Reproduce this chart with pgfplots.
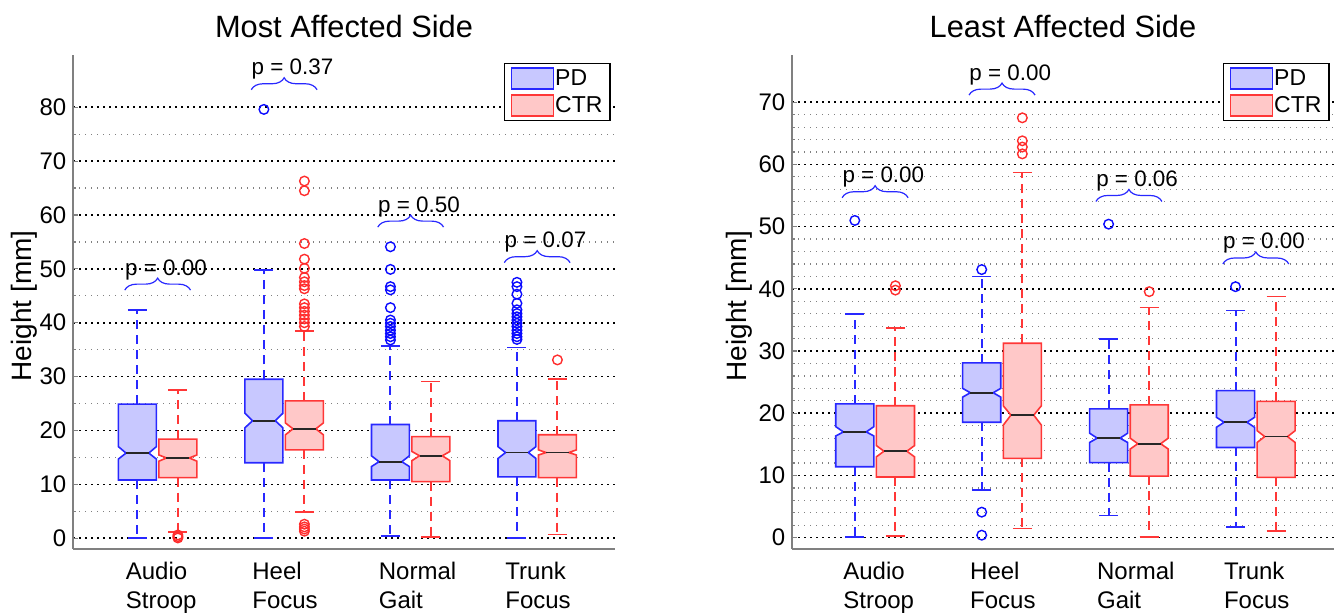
\documentclass[border=0pt]{standalone}
\usepackage{pgfplots}
\pgfplotsset{compat=1.18}
\usepackage{fontspec}
\setmainfont{Liberation Sans}
\usetikzlibrary{decorations.pathreplacing}

\definecolor{pdedge}{RGB}{40,40,255}
\definecolor{pdfill}{RGB}{200,200,255}
\definecolor{pdmark}{RGB}{10,10,255}
\definecolor{ctredge}{RGB}{255,55,55}
\definecolor{ctrfill}{RGB}{255,200,200}
\definecolor{ctrmark}{RGB}{255,45,45}

\pgfplotsset{
  pdbox/.style={draw=pdedge, fill=pdfill, line width=0.8pt, mark=none, line join=miter},
  ctrbox/.style={draw=ctredge, fill=ctrfill, line width=0.8pt, mark=none, line join=miter},
  pdwhisker/.style={color=pdedge, line width=1pt, line cap=butt, dash pattern=on 4.5pt off 3pt, mark=none},
  ctrwhisker/.style={color=ctredge, line width=1pt, line cap=butt, dash pattern=on 4.5pt off 3pt, mark=none},
  pdcap/.style={color=pdedge, line width=0.8pt, mark=none},
  ctrcap/.style={color=ctredge, line width=0.8pt, mark=none},
  median/.style={color=black!85, line width=0.9pt, mark=none},
  pdout/.style={only marks, mark=o, mark size=2.4pt, mark options={draw=pdmark, line width=0.7pt, solid}},
  ctrout/.style={only marks, mark=o, mark size=2.4pt, mark options={draw=ctrmark, line width=0.7pt, solid}},
  panel/.style={
    scale only axis, width=271pt, height=247pt,
    anchor=south west,
    axis x line*=bottom, axis y line*=left,
    axis line style={black!50, line width=1pt},
    xtick={1,2,3,4},
    xticklabels={{Audio\\Stroop},{Heel\\Focus},{Normal\\Gait},{Trunk\\Focus}},
    xtick style={draw=none},
    ytick style={draw=black!50, line width=0.6pt},
    tick align=inside,
    major tick length=2.5pt, minor tick length=1.5pt,
    ymajorgrids, yminorgrids,
    major grid style={draw=black, line width=0.8pt, dash pattern=on 0.8pt off 2.2pt},
    minor grid style={draw=black!50, line width=0.6pt, dash pattern=on 0.6pt off 2.4pt},
    tick label style={font=\fontsize{12}{14.5}\selectfont},
    /pgf/number format/assume math mode=true,
    xticklabel style={anchor=north west, align=left, inner sep=0pt, xshift=-16.1pt, yshift=-6.5pt},
    yticklabel style={anchor=east, inner sep=0pt, xshift=-3.2pt},
    title style={at={(0.5,1)}, anchor=base, yshift=2.5pt, font=\fontsize{15.4}{18}\selectfont},
    ylabel={Height [mm]},
    ylabel style={anchor=south, inner sep=0pt, font=\fontsize{14}{17}\selectfont},
    legend style={at={(1,1)}, anchor=north east, xshift=-2.15pt, yshift=-3.85pt,
      draw=black, line width=0.8pt, fill=white,
      font=\fontsize{11.5}{13}\selectfont,
      inner xsep=3.2pt, inner ysep=2pt, row sep=2.2pt,
      nodes={inner sep=0.5pt},
      /tikz/every even column/.append style={column sep=1pt}},
    legend cell align=left,
    clip=false,
  },
}
\tikzset{
  pbrace/.style={draw=pdedge, line width=0.6pt, decorate, decoration={brace, amplitude=6pt}},
  ptext/.style={anchor=base west, inner sep=0pt, yshift=7.5pt, font=\fontsize{11.2}{13}\selectfont},
}

% notched box: style, x, lower whisker, q1, notch low, median, notch high, q3, upper whisker
\newcommand{\nbox}[9]{%
  \pgfmathsetmacro\bxl{#2-0.15}\pgfmathsetmacro\bxr{#2+0.15}%
  \pgfmathsetmacro\bnl{#2-0.09}\pgfmathsetmacro\bnr{#2+0.09}%
  \pgfmathsetmacro\cxl{#2-0.075}\pgfmathsetmacro\cxr{#2+0.075}%
  \edef\nboxcmd{%
    \noexpand\addplot[#1whisker, forget plot] coordinates {(#2,#8) (#2,#9)};
    \noexpand\addplot[#1whisker, forget plot] coordinates {(#2,#4) (#2,#3)};
    \noexpand\addplot[#1cap, forget plot] coordinates {(\cxl,#9) (\cxr,#9)};
    \noexpand\addplot[#1cap, forget plot] coordinates {(\cxl,#3) (\cxr,#3)};
    \noexpand\addplot[#1box, forget plot] coordinates {(\bxl,#4) (\bxr,#4) (\bxr,#5) (\bnr,#6) (\bxr,#7) (\bxr,#8) (\bxl,#8) (\bxl,#7) (\bnl,#6) (\bxl,#5)} -- cycle;
    \noexpand\addplot[median, forget plot] coordinates {(\bnl,#6) (\bnr,#6)};
  }\nboxcmd
}
% brace with p-value: x left, x right, height, text
\newcommand{\pbrace}[4]{%
  \draw[pbrace] (axis cs:#1,#3) -- (axis cs:#2,#3);
  \node[ptext] at (axis cs:#1,#3) {#4};
}
\newcommand{\legendboxes}{%
  \addlegendimage{legend image code/.code={\draw[line width=0.7pt, draw=pdedge, fill=pdfill] (0pt,-5.25pt) rectangle (21pt,5.25pt);}}
  \addlegendentry{PD}
  \addlegendimage{legend image code/.code={\draw[line width=0.7pt, draw=ctredge, fill=ctrfill] (0pt,-5.25pt) rectangle (21pt,5.25pt);}}
  \addlegendentry{CTR}
}

\begin{document}
\begin{tikzpicture}
\useasboundingbox (0,0) rectangle (670pt,306.5pt);

% ---------------- most affected side ----------------
\begin{axis}[panel, at={(36.5pt,32pt)},
  title={Most Affected Side},
  xmin=0.331, xmax=4.615, ymin=-2, ymax=89.7,
  ytick={0,10,...,80}, minor y tick num=1,
  ylabel style={at={(axis description cs:-0.065,0.492)}}]
\legendboxes
\nbox{pd}{0.84}{0.0}{10.8}{14.7}{15.8}{17.0}{24.9}{42.4}
\nbox{ctr}{1.16}{1.2}{11.25}{14.3}{14.9}{15.45}{18.4}{27.5}
\nbox{pd}{1.84}{0.0}{14.0}{20.5}{21.8}{23.2}{29.5}{49.8}
\nbox{ctr}{2.16}{4.9}{16.4}{19.2}{20.3}{21.4}{25.5}{38.5}
\nbox{pd}{2.84}{0.4}{10.8}{13.3}{14.2}{15.3}{21.1}{35.7}
\nbox{ctr}{3.16}{0.2}{10.5}{14.4}{15.3}{16.1}{18.85}{29.1}
\nbox{pd}{3.84}{0.0}{11.4}{14.8}{15.9}{17.0}{21.8}{35.4}
\nbox{ctr}{4.16}{0.7}{11.25}{15.45}{15.9}{16.4}{19.2}{29.6}
% outliers
\addplot[ctrout, forget plot] coordinates {(1.16,0.05) (1.16,0.3) (1.16,0.6)};
\addplot[pdout, forget plot] coordinates {(1.84,79.6)};
\addplot[ctrout, forget plot] coordinates {
  (2.16,1.3) (2.16,1.7) (2.16,2.1) (2.16,2.6)
  (2.16,39.3) (2.16,40.0) (2.16,40.7) (2.16,41.4) (2.16,42.1) (2.16,42.8) (2.16,43.5)
  (2.16,46.3) (2.16,46.9) (2.16,47.6) (2.16,48.4) (2.16,50.1) (2.16,51.8) (2.16,54.7)
  (2.16,64.5) (2.16,66.3)};
\addplot[pdout, forget plot] coordinates {
  (2.84,36.8) (2.84,37.4) (2.84,38.0) (2.84,38.6) (2.84,39.3) (2.84,39.9) (2.84,40.5)
  (2.84,42.8) (2.84,46.1) (2.84,46.7) (2.84,49.9) (2.84,54.1)};
\addplot[pdout, forget plot] coordinates {
  (3.84,36.9) (3.84,37.4) (3.84,38.0) (3.84,38.6) (3.84,39.3) (3.84,39.9) (3.84,40.5)
  (3.84,41.1) (3.84,41.7) (3.84,42.4) (3.84,43.6) (3.84,45.3) (3.84,46.7) (3.84,47.5)};
\addplot[ctrout, forget plot] coordinates {(4.16,33.1)};
\pbrace{0.74}{1.26}{46.05}{p = 0.00}
\pbrace{1.74}{2.26}{83.25}{p = 0.37}
\pbrace{2.74}{3.26}{57.75}{p = 0.50}
\pbrace{3.74}{4.26}{51.15}{p = 0.07}
\end{axis}

% ---------------- least affected side ----------------
\begin{axis}[panel, at={(396pt,32pt)},
  title={Least Affected Side},
  xmin=0.345, xmax=4.616, ymin=-1.82, ymax=77.6,
  ytick={0,10,...,70}, minor y tick num=4,
  ylabel style={at={(axis description cs:-0.0726,0.492)}}]
\legendboxes
\nbox{pd}{0.84}{0.1}{11.4}{16.35}{17.0}{17.85}{21.5}{36.0}
\nbox{ctr}{1.16}{0.3}{9.75}{13.0}{13.9}{14.8}{21.2}{33.7}
\nbox{pd}{1.84}{7.7}{18.55}{22.6}{23.3}{24.0}{28.1}{42.0}
\nbox{ctr}{2.16}{1.45}{12.75}{18.1}{19.7}{21.2}{31.25}{58.7}
\nbox{pd}{2.84}{3.55}{12.06}{15.3}{16.0}{16.8}{20.7}{31.95}
\nbox{ctr}{3.16}{0.1}{9.9}{14.25}{15.1}{16.0}{21.35}{37.0}
\nbox{pd}{3.84}{1.75}{14.5}{17.75}{18.55}{19.35}{23.65}{36.5}
\nbox{ctr}{4.16}{1.1}{9.7}{15.3}{16.25}{17.2}{21.9}{38.75}
% outliers
\addplot[pdout, forget plot] coordinates {(0.84,51.0)};
\addplot[ctrout, forget plot] coordinates {(1.16,39.8) (1.16,40.5)};
\addplot[pdout, forget plot] coordinates {(1.84,0.4) (1.84,4.1) (1.84,43.1)};
\addplot[ctrout, forget plot] coordinates {(2.16,61.7) (2.16,62.8) (2.16,63.8) (2.16,67.5)};
\addplot[pdout, forget plot] coordinates {(2.84,50.4)};
\addplot[ctrout, forget plot] coordinates {(3.16,39.55)};
\addplot[pdout, forget plot] coordinates {(3.84,40.35)};
\pbrace{0.74}{1.26}{54.65}{p = 0.00}
\pbrace{1.74}{2.26}{71.15}{p = 0.00}
\pbrace{2.74}{3.26}{54.05}{p = 0.06}
\pbrace{3.74}{4.26}{44.0}{p = 0.00}
\end{axis}
\end{tikzpicture}
\end{document}
